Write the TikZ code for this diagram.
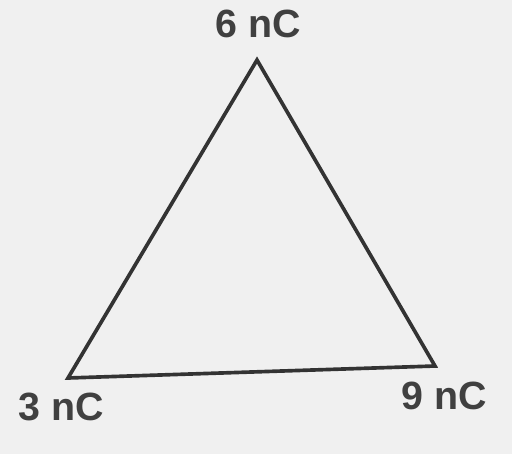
\documentclass[tikz,border=0pt]{standalone}
\usepackage{fontspec}
\setmainfont{Liberation Sans}
\usetikzlibrary{calc}
\begin{document}
\begin{tikzpicture}[x=0.025cm,y=-0.025cm]
\tikzset{charge/.style={font=\fontsize{28}{30}\selectfont\bfseries,text=black!75,inner sep=0pt}}
\fill[black!6] (0,0) rectangle (512,454); \useasboundingbox (0,0) rectangle (512,454);
\coordinate (T) at (257,60); \coordinate (L) at (68,378); \coordinate (R) at (435,366);
\draw[line width=2.6pt,black!80,line join=miter] (T)--(L)--(R)--cycle;
\node[charge] (qT) at (258,24) {6 nC};
\node[charge] (qL) at (61,407) {3 nC};
\node[charge] (qR) at (444,396) {9 nC};
\end{tikzpicture}
\end{document}
